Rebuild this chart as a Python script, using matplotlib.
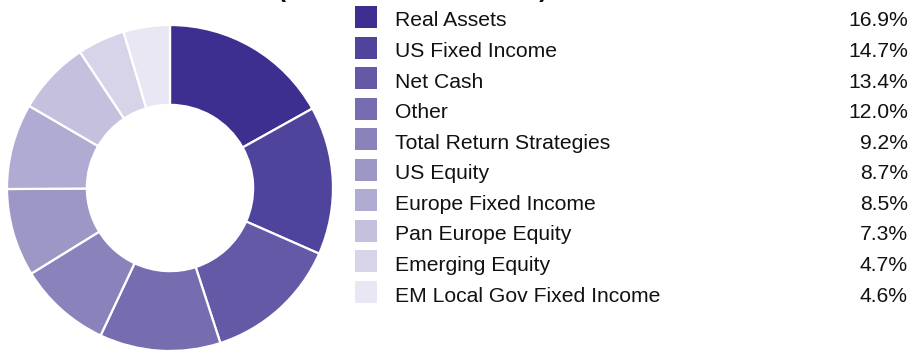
import matplotlib.pyplot as plt
from matplotlib.patches import Rectangle

plt.rcParams['font.family'] = ['Liberation Sans', 'DejaVu Sans']

# allocation by asset class
labels = ['Real Assets', 'US Fixed Income', 'Net Cash', 'Other',
          'Total Return Strategies', 'US Equity', 'Europe Fixed Income',
          'Pan Europe Equity', 'Emerging Equity', 'EM Local Gov Fixed Income']
weights = [16.9, 14.7, 13.4, 12.0, 9.2, 8.7, 8.5, 7.3, 4.7, 4.6]
colors = ['#3c2f8f', '#4f449c', '#6359a6', '#766db0', '#8a82bb',
          '#9d97c6', '#b0abd3', '#c4c0de', '#d7d4e9', '#e9e7f3']

W, H = 910, 352
fig = plt.figure(figsize=(W / 100, H / 100), dpi=100)

# donut
cx, cy, r = 170, 188, 163
ax = fig.add_axes([(cx - r) / W, (H - cy - r) / H, 2 * r / W, 2 * r / H])
ax.pie(weights, colors=colors, startangle=90, counterclock=False,
       radius=1, wedgeprops=dict(width=0.49, edgecolor='white', linewidth=1.6))
ax.set_xlim(-1, 1)
ax.set_ylim(-1, 1)
ax.set_aspect('equal')
ax.axis('off')

# legend drawn in pixel coordinates
lg = fig.add_axes([0, 0, 1, 1])
lg.set_xlim(0, W)
lg.set_ylim(H, 0)
lg.axis('off')
lg.patch.set_alpha(0)

row0, step, sq = 17, 30.56, 22
for i, (lab, w, c) in enumerate(zip(labels, weights, colors)):
    y = row0 + i * step
    lg.add_patch(Rectangle((355, y - sq / 2), sq, sq, facecolor=c, edgecolor='none'))
    lg.text(395, y + 9.5, lab, fontsize=15.2, va='baseline', ha='left', color='#111111')
    lg.text(908, y + 9.5, f'{w:.1f}%', fontsize=15.2, va='baseline', ha='right', color='#111111')

# heading sits above the visible area, only its parentheses show
lg.text(548, -2.5, 'Asset Allocation (% of Total Net Assets)', fontsize=18,
        fontweight='bold', ha='right', va='baseline', color='#111111')

fig.savefig('out.png', dpi=100)
